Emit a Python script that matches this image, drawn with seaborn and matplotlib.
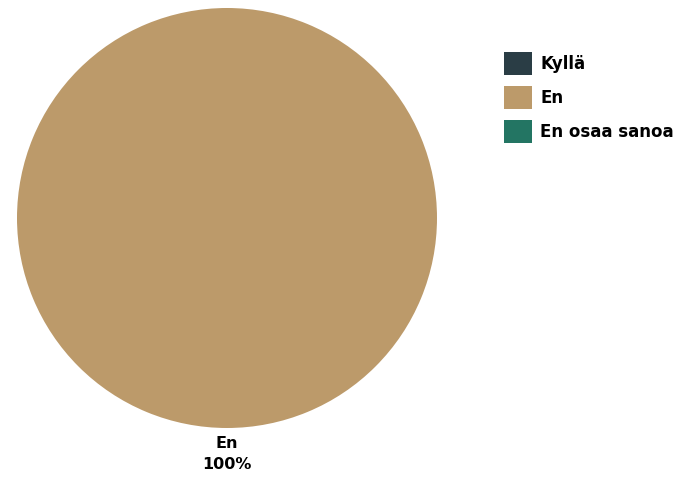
import matplotlib
matplotlib.use("Agg")
import matplotlib.pyplot as plt
from matplotlib.patches import Patch
import seaborn as sns
import numpy as np

categories = ["Kyllä", "En", "En osaa sanoa"]
values = [0, 100, 0]
colors = ["#2a3d45", "#bc9a6a", "#237563"]

sns.set_theme(style="white")
plt.rcParams['font.family'] = ['DejaVu Sans']
palette = sns.color_palette(colors)

W, H = 679, 478
fig = plt.figure(figsize=(W / 100, H / 100), dpi=100)
ax = fig.add_axes([17 / W, (H - 428) / H, 420 / W, 420 / H])

wedges, _ = ax.pie(values, colors=palette, startangle=90, counterclock=False,
                   wedgeprops=dict(linewidth=0))
ax.set_xlim(-1, 1)
ax.set_ylim(-1, 1)
ax.set_aspect('equal')

total = sum(values)
for w, cat, v in zip(wedges, categories, values):
    if v <= 0:
        continue
    ang = np.deg2rad((w.theta1 + w.theta2) / 2)
    x, y = np.cos(ang), np.sin(ang)
    ax.text(1.04 * x, 1.04 * y, f"{cat}\n{v / total * 100:.0f}%", ha='center',
            va='top' if y < 0 else 'bottom', fontsize=11.5, fontweight='bold',
            color='#000000', linespacing=1.5, clip_on=False)

fs = 12
fpx = fs * 100 / 72
hh = (23 / fpx - 0.245) / 0.65
handles = [Patch(facecolor=c, edgecolor='none') for c in palette]
leg = fig.legend(handles, categories, loc='upper left',
                 bbox_to_anchor=(504 / W, (H - 52) / H),
                 frameon=False, borderpad=0, borderaxespad=0,
                 prop=dict(weight='bold', size=fs),
                 handlelength=28 / fpx, handleheight=hh,
                 labelspacing=10.9 / fpx, handletextpad=8 / fpx)
for t in leg.get_texts():
    t.set_color('#000000')

fig.savefig("out.png", dpi=100)
